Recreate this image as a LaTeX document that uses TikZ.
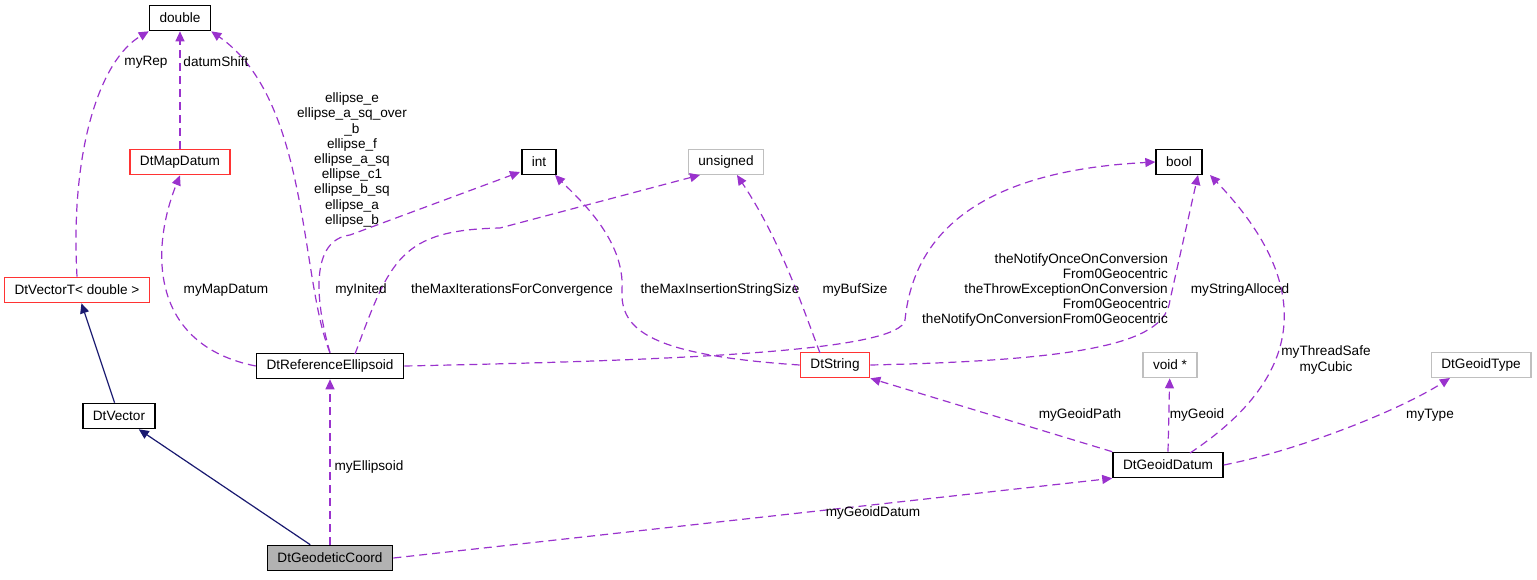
\documentclass[tikz,border=0pt]{standalone}
\usepackage{fontspec}
\setmainfont{Liberation Sans}
\usetikzlibrary{arrows.meta}
\definecolor{orchid}{HTML}{9A32CD}
\definecolor{navy}{HTML}{191970}
\begin{document}
\begin{tikzpicture}[x=0.5pt,y=-0.5pt,
  cls/.style={draw=black,thick,inner xsep=5pt,inner ysep=2pt,minimum height=12.5pt,font=\fontsize{6.8}{8}\selectfont},
  redcls/.style={cls,draw=red!80},
  graycls/.style={cls,draw=black!25},
  focus/.style={cls,fill=black!30},
  uses/.style={-{Triangle[length=5pt,width=4.5pt,fill=orchid]},draw=orchid,dashed,dash pattern=on 4pt off 2.5pt,semithick},
  isa/.style={-{Triangle[length=5pt,width=4.5pt,fill=navy]},draw=navy,semithick},
  lbl/.style={font=\fontsize{6.8}{7.6}\selectfont,align=center,inner sep=0pt}
]
\useasboundingbox (0,0) rectangle (1537,579);

\node[cls] (double) at (180,18) {double};
\node[redcls] (mapdatum) at (180,162) {DtMapDatum};
\node[redcls] (vectort) at (77,290) {DtVectorT< double >};
\node[cls] (vector) at (119,416) {DtVector};
\node[cls] (refell) at (330,366) {DtReferenceEllipsoid};
\node[cls] (int) at (539,162) {int};
\node[graycls] (unsigned) at (726,162) {unsigned};
\node[cls] (bool) at (1179,162) {bool};
\node[redcls] (string) at (835,365) {DtString};
\node[graycls] (void) at (1170,365) {void *};
\node[graycls] (geoidtype) at (1481,365) {DtGeoidType};
\node[cls] (geoiddatum) at (1168,465) {DtGeoidDatum};
\node[focus] (coord) at (330,558) {DtGeodeticCoord};

% inheritance
\draw[isa] (vector) -- (vectort);
\draw[isa] (coord) -- (vector);

% usage
\draw[uses] (vectort.north) .. controls (70,150) and (100,60) .. (double.south west);
\draw[uses] (mapdatum) -- (double);
\draw[uses] (refell.north) .. controls (300,280) and (310,100) .. (double.south east);
\draw[uses] (refell.west) .. controls (150,345) and (150,250) .. (mapdatum.south);
\draw[uses] (refell.north) .. controls (315,300) and (310,240) .. (350,235) -- (520,172);
\draw[uses] (355,354) .. controls (390,260) and (400,230) .. (500,228) -- (700,175);
\draw[uses] (refell.east) .. controls (700,360) and (900,350) .. (905,320) .. controls (915,220) and (1000,170) .. (bool.west);
\draw[uses] (string.west) .. controls (650,355) and (620,330) .. (622,290) .. controls (625,240) and (580,200) .. (555,175);
\draw[uses] (820,353) .. controls (800,300) and (780,240) .. (737,175);
\draw[uses] (string.east) .. controls (1100,360) and (1165,340) .. (1170,300) -- (1198,175);
\draw[uses] (geoiddatum.north west) -- (string.south east);
\draw[uses] (geoiddatum.north) -- (void);
\draw[uses] (1190,453) .. controls (1300,380) and (1320,290) .. (1210,175);
\draw[uses] (geoiddatum.east) .. controls (1300,450) and (1400,410) .. (1450,378);
\draw[uses] (coord) -- (refell);
\draw[uses] (coord.east) -- (geoiddatum.south west);

% labels
\node[lbl] (lrep) at (146,62) {myRep};
\node[lbl] (lshift) at (216,62) {datumShift};
\node[lbl] (lell) at (352,160) {ellipse\_e\\ellipse\_a\_sq\_over\\\_b\\ellipse\_f\\ellipse\_a\_sq\\ellipse\_c1\\ellipse\_b\_sq\\ellipse\_a\\ellipse\_b};
\node[lbl] (lmap) at (226,290) {myMapDatum};
\node[lbl] (linit) at (361,290) {myInited};
\node[lbl] (lmaxit) at (512,290) {theMaxIterationsForConvergence};
\node[lbl,align=right] (lnotify) at (1045,290) {theNotifyOnceOnConversion\\From0Geocentric\\theThrowExceptionOnConversion\\From0Geocentric\\theNotifyOnConversionFrom0Geocentric};
\node[lbl] (lmaxins) at (720,290) {theMaxInsertionStringSize};
\node[lbl] (lbuf) at (855,290) {myBufSize};
\node[lbl] (lalloc) at (1240,290) {myStringAlloced};
\node[lbl] (lpath) at (1080,415) {myGeoidPath};
\node[lbl] (lgeoid) at (1197,415) {myGeoid};
\node[lbl] (lthread) at (1326,360) {myThreadSafe\\myCubic};
\node[lbl] (ltype) at (1430,415) {myType};
\node[lbl] (lellip) at (369,467) {myEllipsoid};
\node[lbl] (lgdatum) at (873,513) {myGeoidDatum};
\end{tikzpicture}
\end{document}
